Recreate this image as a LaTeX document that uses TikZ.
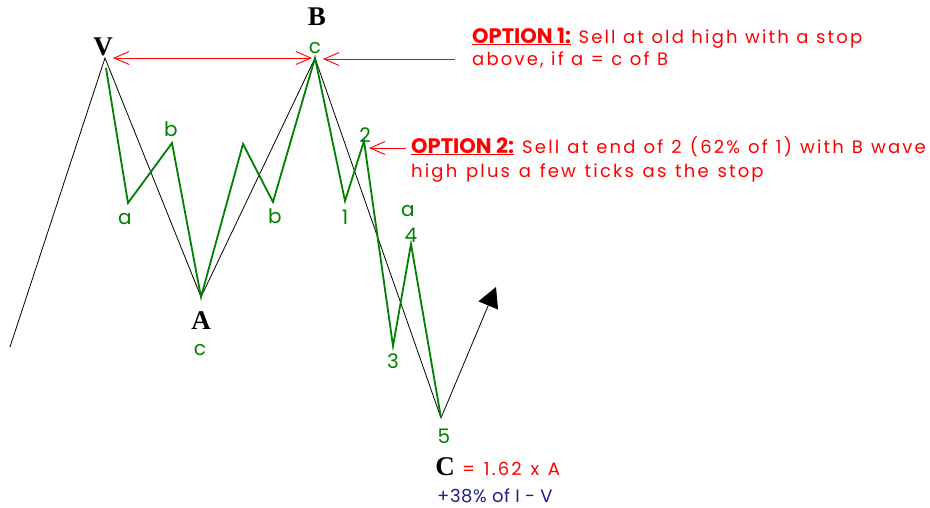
\documentclass[tikz,border=0pt]{standalone}
\usepackage{fontspec}
\setmainfont{Poppins}
\newfontfamily\optfont[LetterSpace=12]{Poppins}
\newfontfamily\optwide[LetterSpace=12,WordSpace=1.3]{Poppins}
\newfontfamily\optmid[LetterSpace=12,WordSpace=1.08]{Poppins}
\newfontfamily\headfont{Poppins}
\newfontfamily\navyfont[LetterSpace=3]{Poppins}
\newfontfamily\serifb{Liberation Serif}
\newcommand{\OptHead}[1]{{\headfont\bfseries\fontsize{21}{21}\selectfont\underline{#1}}}
\usetikzlibrary{arrows.meta}
\definecolor{wgreen}{RGB}{0,128,0}
\definecolor{optred}{RGB}{255,0,0}
\definecolor{navy}{RGB}{30,30,140}
\begin{document}
\begin{tikzpicture}[x=1pt,y=-1pt,
  wave/.style={black, line width=0.8pt, line join=miter},
  sub/.style={wgreen, line width=1.8pt, line join=miter},
  lbl/.style={wgreen, font=\fontsize{20}{20}\selectfont, inner sep=0pt},
  pt/.style={black, font=\serifb\bfseries\fontsize{27}{27}\selectfont, inner sep=0pt},
  redline/.style={optred, line width=0.9pt},
  opt/.style={optred, font=\optfont\fontsize{18}{18}\selectfont, inner sep=0pt, anchor=base west},
  optw/.style={opt, font=\optwide\fontsize{18}{18}\selectfont},
  optm/.style={opt, font=\optmid\fontsize{18}{18}\selectfont},
]
\useasboundingbox (0,0) rectangle (930,507);
% main wave
\coordinate (S) at (10,347);
\coordinate (V) at (105,58);
\coordinate (A) at (201,297);
\coordinate (B) at (315,58);
\coordinate (C) at (441,418);
\coordinate (E) at (496,287);
\draw[wave] (S) -- (V) -- (A) -- (B) -- (C);
\draw[black, line width=0.8pt, -{Triangle[length=20pt,width=21pt]}] (C) -- (E);
% sub waves
\coordinate (g0) at (106,68);
\coordinate (ga) at (128,203);
\coordinate (gb) at (172,143);
\coordinate (gx) at (243,144);
\coordinate (gb2) at (273,202);
\coordinate (g1) at (345,201);
\coordinate (g2) at (364,141);
\coordinate (g3) at (393,346);
\coordinate (g4) at (411,244);
\draw[sub] (g0) -- (ga) -- (gb) -- (A) -- (gx) -- (gb2) -- (B) -- (g1) -- (g2) -- (g3) -- (g4) -- (C);
% green labels
\node[lbl] (la1) at (125,219) {a};
\node[lbl] (lb1) at (171,129) {b};
\node[lbl] (lb2) at (275,216) {b};
\node[lbl] (lcB) at (315,48) {c};
\node[lbl] (lcA) at (200,350) {c};
\node[lbl] (l1) at (345,217) {1};
\node[lbl] (l2) at (365,135) {2};
\node[lbl] (la2) at (408,211) {a};
\node[lbl] (l4) at (411,235) {4};
\node[lbl] (l3) at (393,361) {3};
\node[lbl] (l5) at (444,436) {5};
% black labels
\node[pt] (nV) at (103,47) {V};
\node[pt] (nB) at (317,17) {B};
\node[pt] (nA) at (201,321) {A};
\node[pt] (nC) at (445,467) {C};
% red arrows
\coordinate (r1s) at (113,58);
\coordinate (r1e) at (312,58);
\draw[redline, {Straight Barb[length=15pt,width=13pt]}-{Straight Barb[length=15pt,width=13pt]}] (r1s) -- (r1e);
\coordinate (r2s) at (455,59);
\coordinate (r2e) at (323,59);
\draw[redline, -{Straight Barb[length=15pt,width=13pt]}] (r2s) -- (r2e);
\coordinate (r3s) at (406,148);
\coordinate (r3e) at (369,148);
\draw[redline, -{Straight Barb[length=15pt,width=13pt]}] (r3s) -- (r3e);
% option texts
\node[optw] (o1a) at (472,43) {\OptHead{OPTION 1:} Sell at old high with a stop};
\node[optw] (o1b) at (472,65) {above, if a = c of B};
\node[optm] (o2a) at (411,153) {\OptHead{OPTION 2:} Sell at end of 2 (62\% of 1) with B wave};
\node[opt] (o2b) at (411,177) {high plus a few ticks as the stop};
% bottom texts
\node[opt] (eq) at (462,475) {= 1.62 x A};
\node[navy, font=\navyfont\fontsize{18}{18}\selectfont, inner sep=0pt, anchor=base west] (pc) at (437,502) {+38\% of I - V};
\end{tikzpicture}
\end{document}
